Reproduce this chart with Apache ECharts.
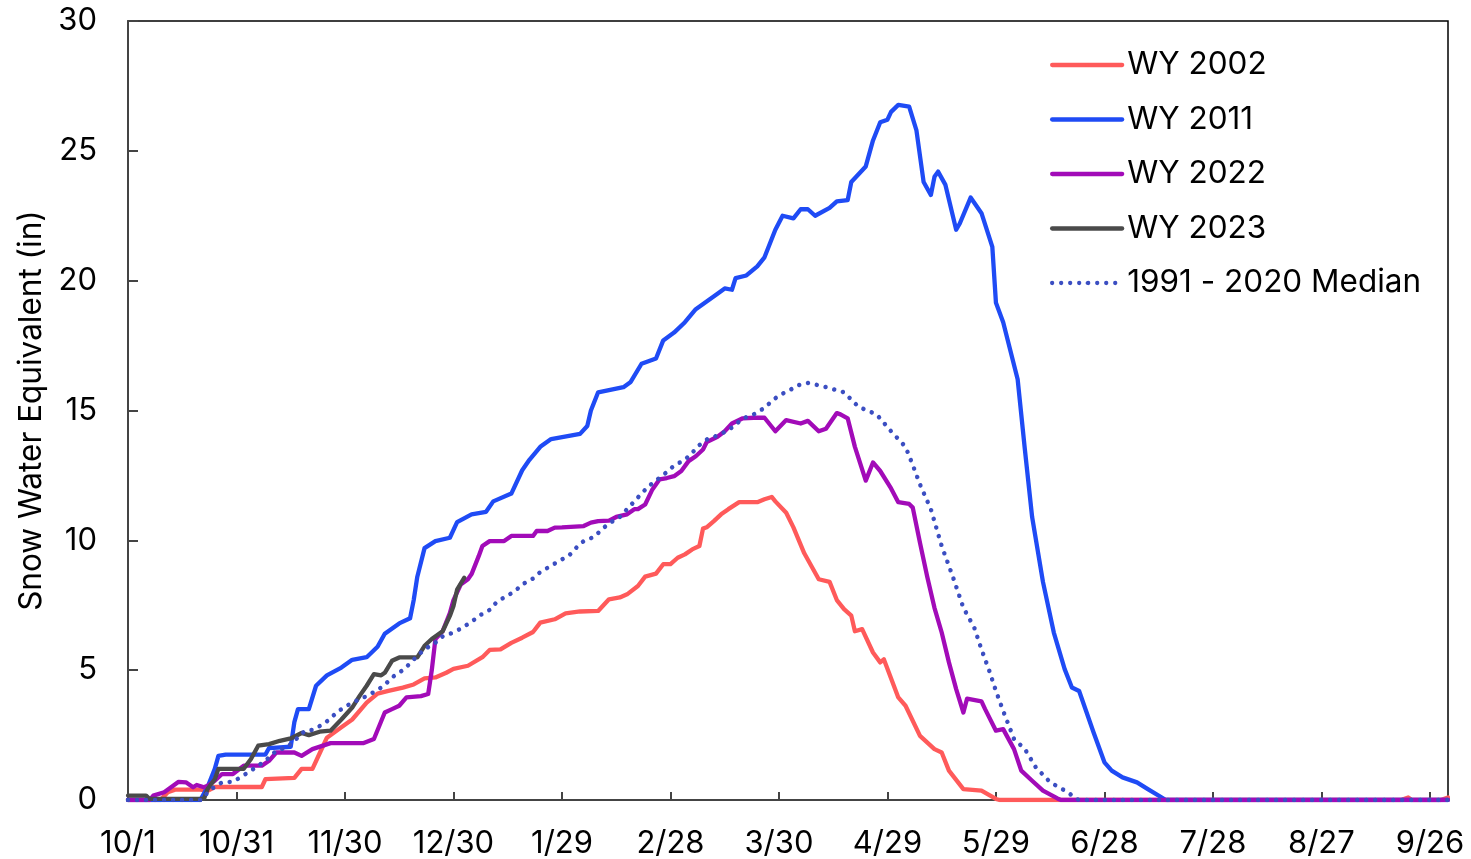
<!DOCTYPE html>
<html>
<head>
<meta charset="utf-8">
<script src="https://cdn.jsdelivr.net/npm/echarts@6/dist/echarts.min.js"></script>
<style>
  html, body { margin: 0; padding: 0; background: #fff; }
  #chart { width: 1471px; height: 859px; }
</style>
</head>
<body>
<div id="chart"></div>
<script>
// x values are days since 10/1
const xTickLabels = ['10/1','10/31','11/30','12/30','1/29','2/28','3/30','4/29','5/29','6/28','7/28','8/27','9/26'];

const wy2002 = [[0,0],[9,0],[11,0.3],[13,0.4],[20,0.4],[22,0.35],[24,0.5],[37,0.5],[38,0.8],[46,0.85],[48,1.2],[51,1.2],[53,1.8],[55,2.4],[59,2.8],[62,3.1],[66,3.75],[69,4.1],[72,4.2],[76,4.33],[79,4.45],[82,4.68],[85,4.72],[88,4.9],[90,5.05],[94,5.17],[98,5.5],[100,5.78],[103,5.8],[106,6.05],[109,6.25],[112,6.47],[114,6.83],[118,6.96],[121,7.19],[125,7.26],[130,7.28],[133,7.73],[136,7.8],[138,7.92],[141,8.24],[143,8.6],[146,8.72],[148,9.08],[150,9.08],[152,9.33],[154,9.46],[156,9.65],[158,9.78],[159,10.45],[160,10.5],[162,10.74],[164,11.0],[166,11.2],[169,11.47],[174,11.47],[176,11.58],[178,11.67],[179,11.5],[182,11.06],[184,10.5],[187,9.5],[189,9.0],[191,8.5],[194,8.4],[196,7.7],[198,7.35],[200,7.1],[201,6.5],[203,6.58],[206,5.68],[208,5.3],[209,5.42],[213,3.95],[215,3.63],[219,2.47],[223,1.96],[225,1.83],[227,1.13],[231,0.42],[236,0.36],[240,0.04],[241,0],[352,0],[354,0.1],[355,0],[363,0],[365,0.1]];

const wy2011 = [[0,0],[20,0],[22,0.5],[24,1.2],[25,1.7],[27,1.75],[38,1.75],[39,2.0],[45,2.05],[46,3.0],[47,3.5],[50,3.5],[52,4.4],[55,4.8],[59,5.1],[62,5.4],[66,5.5],[69,5.9],[71,6.4],[75,6.8],[78,7.0],[79,7.7],[80,8.6],[82,9.7],[85,9.97],[89,10.1],[91,10.7],[95,11.0],[99,11.1],[101,11.5],[106,11.8],[109,12.7],[111,13.1],[114,13.6],[117,13.9],[125,14.1],[127,14.4],[128,15.0],[130,15.7],[137,15.9],[139,16.1],[142,16.8],[146,17.0],[148,17.7],[151,18.0],[154,18.4],[157,18.9],[163,19.5],[165,19.7],[167,19.65],[168,20.1],[171,20.2],[174,20.55],[176,20.9],[179,21.96],[181,22.5],[184,22.4],[186,22.75],[188,22.75],[190,22.5],[194,22.8],[196,23.05],[199,23.1],[200,23.8],[202,24.1],[204,24.4],[206,25.4],[208,26.1],[210,26.2],[211,26.5],[213,26.77],[216,26.7],[218,25.8],[220,23.8],[222,23.3],[223,24.0],[224,24.2],[226,23.7],[229,21.96],[230,22.2],[233,23.2],[235,22.8],[236,22.6],[239,21.3],[240,19.15],[242,18.4],[246,16.2],[248,13.5],[250,10.9],[253,8.4],[256,6.45],[259,5.04],[261,4.33],[263,4.2],[267,2.6],[270,1.45],[272,1.13],[275,0.87],[279,0.68],[282,0.42],[287,0],[365,0]];

const wy2022 = [[0,0],[6,0],[7,0.17],[10,0.3],[14,0.7],[16,0.68],[18,0.49],[19,0.58],[21,0.49],[22,0.55],[24,0.74],[26,1.0],[29,1.0],[32,1.32],[37,1.32],[39,1.51],[41,1.83],[46,1.83],[48,1.7],[51,1.96],[56,2.19],[65,2.19],[68,2.35],[71,3.37],[73,3.5],[75,3.63],[77,3.95],[81,4.0],[83,4.08],[84,5.0],[85,6.2],[87,6.5],[89,7.2],[90,7.7],[92,8.3],[94,8.5],[95,8.7],[97,9.4],[98,9.78],[100,9.97],[104,9.97],[106,10.17],[112,10.17],[113,10.36],[116,10.36],[118,10.49],[120,10.5],[126,10.55],[128,10.68],[130,10.74],[133,10.76],[135,10.9],[138,11.0],[140,11.2],[141,11.2],[143,11.38],[145,11.96],[147,12.35],[149,12.4],[151,12.47],[153,12.67],[155,13.05],[157,13.24],[159,13.5],[160,13.78],[163,13.99],[165,14.2],[167,14.5],[170,14.7],[173,14.72],[176,14.72],[179,14.2],[182,14.63],[186,14.5],[188,14.6],[191,14.2],[193,14.3],[196,14.9],[197,14.85],[199,14.7],[201,13.6],[204,12.3],[206,13.0],[208,12.67],[211,12.0],[213,11.47],[216,11.4],[217,11.26],[219,9.9],[221,8.6],[223,7.4],[225,6.45],[227,5.3],[229,4.27],[231,3.37],[232,3.9],[236,3.8],[237,3.5],[240,2.67],[242,2.73],[245,1.96],[247,1.13],[250,0.74],[253,0.36],[257,0.06],[258,0],[365,0]];

const wy2023 = [[0,0.17],[5,0.17],[6,0.04],[21,0.04],[22,0.42],[24,0.8],[25,1.2],[32,1.2],[34,1.58],[36,2.09],[39,2.15],[42,2.28],[45,2.37],[48,2.58],[50,2.5],[53,2.63],[56,2.67],[59,3.1],[62,3.56],[64,4.0],[66,4.4],[68,4.85],[70,4.8],[71,4.9],[73,5.36],[75,5.49],[80,5.49],[82,5.94],[84,6.2],[87,6.5],[89,7.09],[90,7.47],[91,8.1],[93,8.56]];

const median = [[0,0],[20,0],[23,0.42],[26,0.68],[29,0.7],[31,0.87],[34,1.13],[38,1.51],[41,1.9],[44,2.03],[47,2.41],[49,2.67],[51,2.7],[54,2.92],[56,3.14],[58,3.41],[61,3.67],[64,3.88],[66,4.0],[69,4.24],[71,4.43],[73,4.72],[76,5.0],[78,5.26],[80,5.55],[82,5.8],[85,6.06],[87,6.3],[90,6.45],[92,6.6],[95,6.86],[97,7.09],[100,7.32],[102,7.63],[104,7.8],[107,8.04],[109,8.3],[112,8.53],[114,8.78],[117,9.02],[119,9.19],[122,9.42],[124,9.72],[126,9.97],[129,10.14],[131,10.42],[133,10.65],[136,10.9],[138,11.2],[140,11.5],[142,11.8],[144,12.09],[146,12.3],[149,12.63],[151,12.88],[154,13.1],[156,13.37],[158,13.67],[160,13.88],[163,14.04],[166,14.24],[168,14.46],[170,14.69],[173,14.85],[176,15.1],[178,15.36],[180,15.58],[183,15.78],[185,15.96],[188,16.06],[191,15.97],[193,15.9],[196,15.78],[198,15.7],[202,15.14],[207,14.85],[211,14.2],[215,13.6],[217,12.9],[219,12.15],[222,11.2],[225,9.78],[228,8.63],[231,7.4],[234,6.64],[236,5.8],[238,5.04],[240,4.2],[242,3.43],[245,2.35],[248,1.96],[251,1.26],[255,0.68],[260,0.29],[262,0.06],[263,0],[365,0]];

const seriesNames = ['WY 2002','WY 2011','WY 2022','WY 2023','1991 - 2020 Median'];
const seriesColors = ['#FF5A5A','#1F4BF5','#A20BB8','#4A4A4A','#3B4EC2'];

const FONT = 'Inter, "Noto Sans", sans-serif';
const chart = echarts.init(document.getElementById('chart'), null, {renderer: 'canvas'});

function lineSeries(name, data, color, extra) {
  return Object.assign({
    name: name,
    type: 'line',
    data: data,
    symbol: 'none',
    showSymbol: false,
    animation: false,
    lineStyle: { color: color, width: 4.3, join: 'round', cap: 'round' },
    itemStyle: { color: color },
    z: 2
  }, extra || {});
}

const option = {
  animation: false,
  backgroundColor: '#fff',
  textStyle: { fontFamily: FONT },
  grid: {
    left: 128, right: 23, top: 21, bottom: 58,
    show: true, borderColor: '#000', borderWidth: 1.5, backgroundColor: 'transparent'
  },
  legend: {
    orient: 'vertical',
    left: 1050,
    top: 49,
    padding: 0,
    itemWidth: 70,
    itemHeight: 4,
    itemGap: 22.5,
    textStyle: { fontFamily: FONT, fontSize: 31.5, color: '#000', lineHeight: 30 },
    lineStyle: { width: 4.3 },
    data: seriesNames
  },
  xAxis: {
    type: 'value',
    min: 0,
    max: 365,
    interval: 30,
    axisLine: { show: true, lineStyle: { color: '#444', width: 2 } },
    axisTick: { show: true, inside: true, length: 8, lineStyle: { color: '#444', width: 2 } },
    axisLabel: {
      fontFamily: FONT, fontSize: 31, color: '#000', margin: 28,
      showMaxLabel: false,
      formatter: function (v) { return (v % 30 === 0 && xTickLabels[v / 30] !== undefined) ? xTickLabels[v / 30] : ''; }
    },
    splitLine: { show: false }
  },
  yAxis: {
    type: 'value',
    min: 0,
    max: 30,
    interval: 5,
    name: 'Snow Water Equivalent (in)',
    nameLocation: 'middle',
    nameGap: 77,
    nameTextStyle: { fontFamily: FONT, fontSize: 31.5, color: '#000' },
    axisLine: { show: true, lineStyle: { color: '#444', width: 2 } },
    axisTick: { show: true, inside: true, length: 10, lineStyle: { color: '#444', width: 2 } },
    axisLabel: { fontFamily: FONT, fontSize: 31, color: '#000', margin: 31 },
    splitLine: { show: false }
  },
  series: [
    lineSeries(seriesNames[0], wy2002, seriesColors[0]),
    lineSeries(seriesNames[1], wy2011, seriesColors[1]),
    lineSeries(seriesNames[2], wy2022, seriesColors[2]),
    lineSeries(seriesNames[3], wy2023, seriesColors[3]),
    lineSeries(seriesNames[4], median, seriesColors[4], {
      lineStyle: { color: seriesColors[4], width: 4.5, type: [0.01, 9], cap: 'round' },
      z: 3
    })
  ]
};
chart.setOption(option);
</script>
</body>
</html>
